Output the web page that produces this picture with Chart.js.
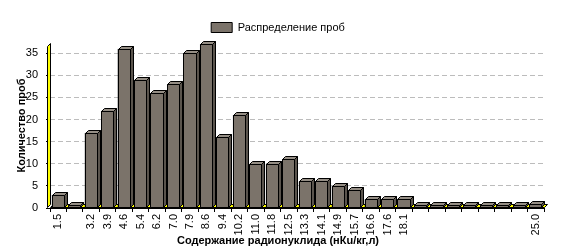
<!DOCTYPE html>
<html>
<head>
<meta charset="utf-8">
<script src="https://cdn.jsdelivr.net/npm/chart.js@4.4.1/dist/chart.umd.min.js"></script>
<style>
  html, body { margin: 0; padding: 0; background: #fff; }
  #wrap { width: 561px; height: 249px; }
</style>
</head>
<body>
<div id="wrap"><canvas id="chart"></canvas></div>
<script>
// data
const binLabels = ["1.5", "", "3.2", "3.9", "4.6", "5.4", "6.2", "7.0", "7.9", "8.6",
  "9.4", "10.2", "11.0", "11.8", "12.5", "13.3", "14.1", "14.9", "15.7", "16.6",
  "17.6", "18.1", "", "", "", "", "", "", "", "25.0"];
const sampleCounts = [3, 0, 17, 22, 36, 29, 26, 28, 35, 37,
  16, 21, 10, 10, 11, 6, 6, 5, 4, 2,
  2, 2, 0, 0, 0, 0, 0, 0, 0, 1];
const seriesName = "Распределение проб";
const xTitle = "Содержание радионуклида (нКu/кг,л)";
const yTitle = "Количество проб";

const colors = {
  front: "#7b736a",
  top: "#958e85",
  side: "#5a544d",
  wall: "#ffff00",
  grid: "#bcbcbc"
};
const DEPTH = 3;

/* ---- fake 3D: floor, wall, bar tops and sides ---- */
function poly(ctx, pts, fill) {
  ctx.beginPath();
  ctx.moveTo(pts[0][0], pts[0][1]);
  for (let i = 1; i < pts.length; i++) ctx.lineTo(pts[i][0], pts[i][1]);
  ctx.closePath();
  ctx.fillStyle = fill;
  ctx.fill();
  ctx.stroke();
}

const depthPlugin = {
  id: "depth",
  beforeDatasetsDraw(chart) {
    const { ctx, chartArea: a } = chart;
    const d = DEPTH;
    ctx.save();
    ctx.strokeStyle = "#000";
    ctx.lineWidth = 1;
    const l = Math.round(a.left) + 0.5, r = Math.round(a.right) + 0.5;
    const t = Math.round(a.top) + 0.5, b = Math.round(a.bottom) - 0.5;
    // floor
    poly(ctx, [[l, b], [l + d, b - d], [r + d, b - d], [r, b]], colors.wall);
    // left wall
    poly(ctx, [[l - d, b], [l - d, t + d], [l, t], [l, b - d]], colors.wall);
    ctx.restore();
  },
  afterDatasetsDraw(chart) {
    const { ctx } = chart;
    const d = DEPTH;
    ctx.save();
    ctx.strokeStyle = "#000";
    ctx.lineWidth = 1;
    chart.getDatasetMeta(0).data.forEach(bar => {
      const p = bar.getProps(["x", "y", "base", "width"], true);
      const x0 = Math.round(p.x - p.width / 2) + 0.5;
      const x1 = Math.round(p.x + p.width / 2) - 0.5;
      const base = Math.round(p.base) - 0.5;
      let top = Math.round(p.y) + 0.5;
      if (base - top < 2) {
        top = base - 2;
      }
      poly(ctx, [[x0, top], [x1, top], [x1, base], [x0, base]], colors.front);
      poly(ctx, [[x0, top], [x0 + d, top - d], [x1 + d, top - d], [x1, top]], colors.top);
      poly(ctx, [[x1, top], [x1 + d, top - d], [x1 + d, base - d], [x1, base]], colors.side);
    });
    ctx.restore();
  }
};

const font = "'Liberation Sans', Arial, sans-serif";

new Chart(document.getElementById("chart"), {
  type: "bar",
  data: {
    labels: binLabels,
    datasets: [{
      label: seriesName,
      data: sampleCounts,
      backgroundColor: colors.front,
      borderColor: "#000",
      borderWidth: 1,
      categoryPercentage: 1,
      barPercentage: 0.8
    }]
  },
  plugins: [depthPlugin],
  options: {
    responsive: true,
    maintainAspectRatio: false,
    animation: false,
    layout: { padding: { top: 12, right: 17, bottom: 0, left: 12 } },
    plugins: {
      legend: {
        position: "top",
        labels: {
          color: "#000",
          boxWidth: 21,
          boxHeight: 10,
          padding: 10,
          font: { family: font, size: 11 }
        }
      },
      title: {
        display: true,
        position: "bottom",
        text: xTitle,
        color: "#000",
        padding: { top: 0, bottom: 1 },
        font: { family: font, size: 11, weight: "bold" }
      },
      tooltip: { enabled: false }
    },
    scales: {
      x: {
        grid: {
          display: true,
          drawOnChartArea: false,
          drawTicks: true,
          tickLength: 4,
          color: "#000"
        },
        border: { display: true, color: "#000" },
        ticks: {
          color: "#000",
          autoSkip: false,
          minRotation: 90,
          maxRotation: 90,
          padding: 2,
          font: { family: font, size: 11 }
        },
        afterFit(scale) { scale.height = 26.8; }
      },
      y: {
        min: 0,
        max: 37.3,
        grid: {
          color: colors.grid,
          tickLength: 4,
          tickColor: "#000"
        },
        border: { display: false, dash: [5, 3] },
        ticks: {
          stepSize: 5,
          includeBounds: false,
          color: "#000",
          padding: 8,
          font: { family: font, size: 11 }
        },
        title: {
          display: true,
          text: yTitle,
          color: "#000",
          padding: { top: 3, bottom: 0 },
          font: { family: font, size: 11, weight: "bold" }
        },
        afterFit(scale) { scale.width = 38; }
      }
    }
  }
});
</script>
</body>
</html>
